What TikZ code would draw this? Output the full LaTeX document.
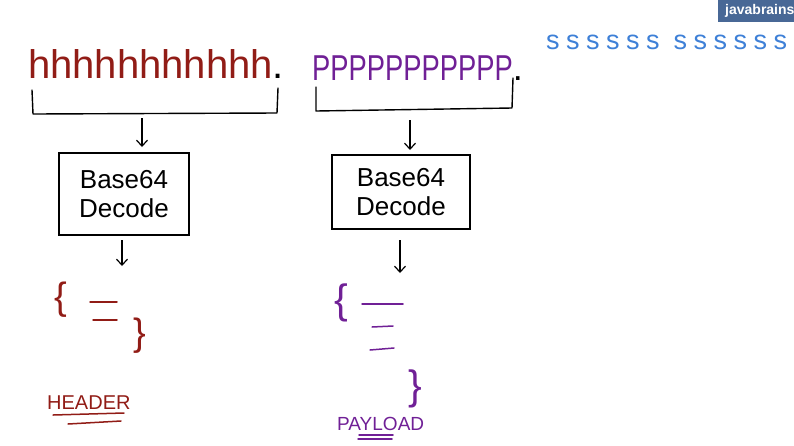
\documentclass[tikz,border=0pt]{standalone}
\usepackage{fontspec}
\setmainfont{Liberation Sans}
\usepackage{graphicx}
\usetikzlibrary{arrows.meta, positioning}
\definecolor{hdrred}{RGB}{145,28,22}
\definecolor{pldpurple}{RGB}{112,32,150}
\definecolor{sigblue}{RGB}{62,128,215}
\definecolor{jbblue}{RGB}{72,104,150}
\newcommand\sgap{\kern6.5pt}

\begin{document}
\begin{tikzpicture}[
      x=1pt, y=-1pt,
      box/.style={draw, line width=1.4pt, inner sep=0pt,
                  align=center, font=\fontsize{26}{29}\selectfont},
      arrow/.style={-{Straight Barb[length=6pt,width=11pt]}, line width=1.2pt},
      brk/.style={line width=1.4pt, line cap=round, line join=round},
      pen/.style={line width=1.5pt, line cap=round},
      brace/.style={inner sep=0pt, font=\fontsize{38}{38}\selectfont},
      word/.style={anchor=base west, inner sep=0pt},
  ]
    \useasboundingbox (0,0) rectangle (794,445);

    % encoded token
    \node[word, text=hdrred, font=\fontsize{40}{40}\selectfont] (hstr) at (28,78)
      {hhhhhhhhhhh\textcolor{black}{.}};
    \node[word, text=pldpurple, font=\fontsize{36}{36}\selectfont] (pstr) at (312,80)
      {\scalebox{0.76}[1]{PPPPPPPPPPP}\textcolor{black}{.}};
    \node[word, text=sigblue, font=\fontsize{27}{27}\selectfont] (sstr) at (546,49)
      {s\sgap s\sgap s\sgap s\sgap s\sgap s\kern14pt s\sgap s\sgap s\sgap s\sgap s\sgap s};
    \node[fill=jbblue, text=white, font=\bfseries\fontsize{14}{14}\selectfont,
          anchor=north west, minimum height=22pt, inner xsep=7pt] (jb) at (718,0) {javabrains};

    % brackets under header and payload
    \draw[brk] (32,90) -- (33,114) -- (277,113) -- (278,88);
    \draw[brk] (316,87) -- (316,111) -- (512,108) -- (513,78);
    \coordinate (hbr) at (142,118);
    \coordinate (pbr) at (410,120);

    \node[box, minimum width=130pt, minimum height=82pt] (dec1) at (124,194) {Base64\\Decode};
    \node[box, minimum width=138pt, minimum height=74pt] (dec2) at (401,192) {Base64\\Decode};

    \draw[arrow] (hbr) -- (hbr |- {(0,147)});
    \draw[arrow] (pbr) -- (pbr |- {(0,150)});

    \coordinate (hout) at (122,266);
    \coordinate (pout) at (400,273);
    \draw[arrow] (hout |- {(0,240)}) -- (hout);
    \draw[arrow] (pout |- {(0,240)}) -- (pout);

    % decoded header
    \node[brace, text=hdrred] (hopen) at (61,300) {\{};
    \node[brace, text=hdrred] (hclose) at (140,336) {\}};
    \draw[pen, hdrred] (90,302) -- (117,302);
    \draw[pen, hdrred] (93,320) -- (117,320);
    \node[word, text=hdrred, font=\fontsize{20}{20}\selectfont] (hlbl) at (47,409) {HEADER};
    \draw[pen, hdrred] (53,415) -- (124,413);
    \draw[pen, hdrred] (68,424) -- (121,421);

    % decoded payload
    \node[brace, text=pldpurple, font=\fontsize{41}{41}\selectfont] (popen) at (341,303) {\{};
    \node[brace, text=pldpurple, font=\fontsize{41}{41}\selectfont] (pclose) at (415,389) {\}};
    \draw[pen, pldpurple] (362,304) -- (403,304);
    \draw[pen, pldpurple] (372,327) -- (393,326);
    \draw[pen, pldpurple] (370,350) -- (394,348);
    \node[word, text=pldpurple, font=\fontsize{19}{19}\selectfont] (plbl) at (337,430) {PAYLOAD};
    \draw[pen, pldpurple] (359,435) -- (393,435);
    \draw[pen, pldpurple] (358,439) -- (392,439);

  \end{tikzpicture}
\end{document}
